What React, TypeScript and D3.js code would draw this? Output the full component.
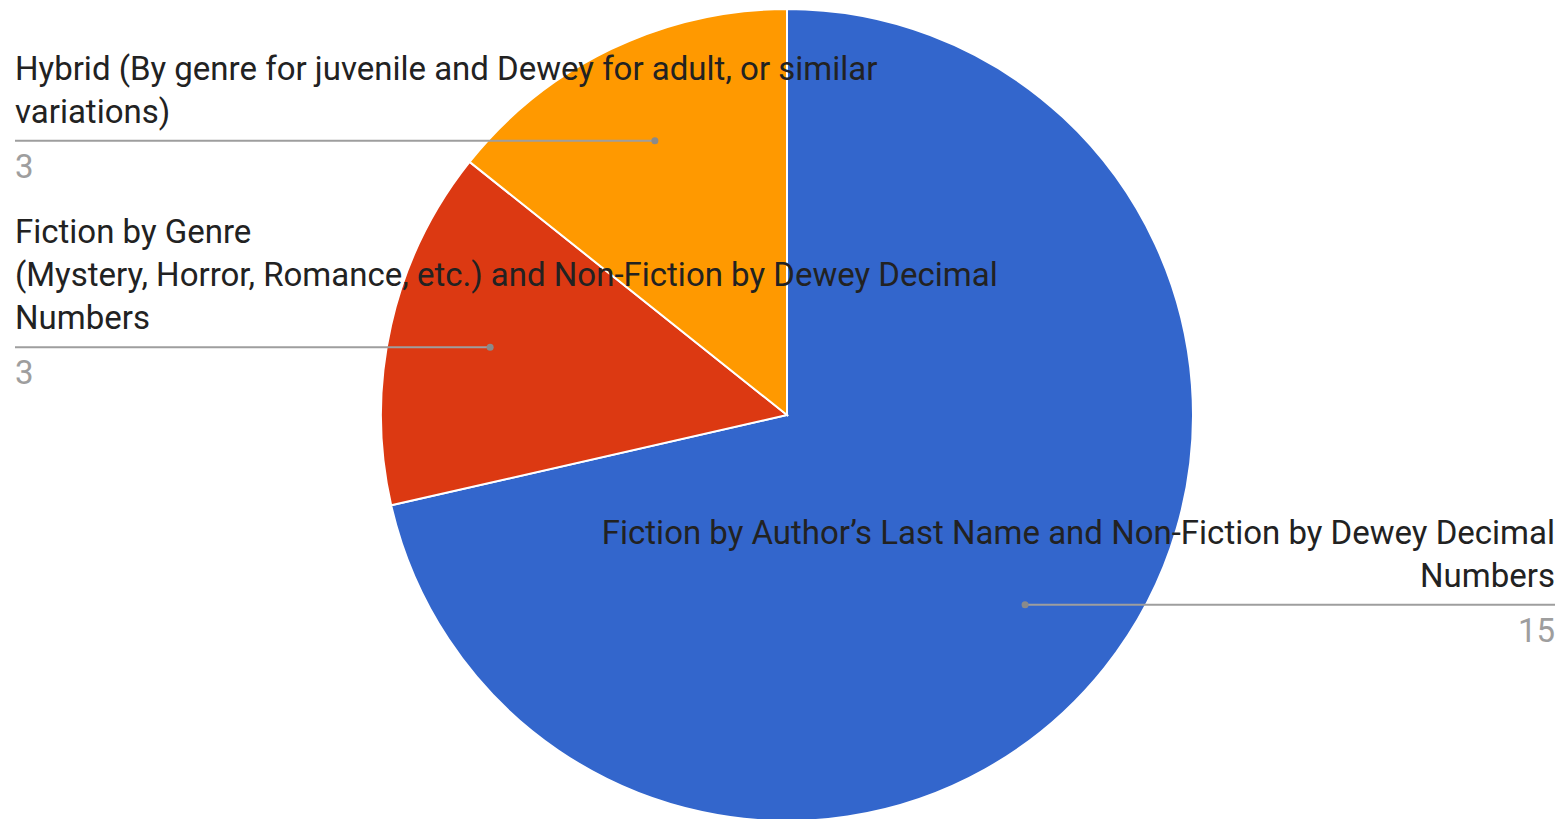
import React from "react";
import * as d3 from "d3";

const categories = [
  "Fiction by Author’s Last Name and Non-Fiction by Dewey Decimal Numbers",
  "Fiction by Genre (Mystery, Horror, Romance, etc.) and Non-Fiction by Dewey Decimal Numbers",
  "Hybrid (By genre for juvenile and Dewey for adult, or similar variations)",
];
const labelLines = [
  ["Fiction by Author’s Last Name and Non-Fiction by Dewey Decimal", "Numbers"],
  ["Fiction by Genre", "(Mystery, Horror, Romance, etc.) and Non-Fiction by Dewey Decimal", "Numbers"],
  ["Hybrid (By genre for juvenile and Dewey for adult, or similar", "variations)"],
];
const values = [15, 3, 3];
const colors = ["#3366cc", "#dc3912", "#ff9900"];

const W = 1568;
const H = 819;
const cx = 787;
const cy = 415;
const R = 406;
const FONT = "Roboto, 'Noto Sans', Arial, sans-serif";
const FS = 33;
const LINE_H = 43;

export default function App() {
  const pie = d3
    .pie<number>()
    .sort(null)
    .value((d) => d)
    .startAngle(0)
    .endAngle(2 * Math.PI);
  const arcs = pie(values);
  const arc = d3.arc<d3.PieArcDatum<number>>().innerRadius(0).outerRadius(R);
  const labelArc = d3
    .arc<d3.PieArcDatum<number>>()
    .innerRadius(R * 0.75)
    .outerRadius(R * 0.75);

  return (
    <div style={{ position: "absolute", left: 0, top: 0, width: W, height: H, background: "#fff", overflow: "hidden" }}>
      <svg width={W} height={H} style={{ display: "block" }}>
        <g transform={`translate(${cx},${cy})`}>
          {arcs.map((a, i) => (
            <path key={i} d={arc(a) || ""} fill={colors[i]} stroke="#fff" strokeWidth={2} />
          ))}
        </g>
        {arcs.map((a, i) => {
          const [px, py] = labelArc.centroid(a);
          const dx = cx + px;
          const dy = cy + py;
          const mid = (a.startAngle + a.endAngle) / 2;
          const right = mid < Math.PI;
          const textX = right ? 1555 : 15;
          const anchor = right ? "end" : "start";
          const lines = labelLines[i];
          const lastBase = dy - 18;
          return (
            <g key={categories[i]}>
              <line x1={textX} x2={dx} y1={dy} y2={dy} stroke="#9e9e9e" strokeWidth={2} />
              <circle cx={dx} cy={dy} r={3.5} fill="#8a8a8a" />
              {lines.map((ln, j) => (
                <text
                  key={j}
                  x={textX}
                  y={lastBase - (lines.length - 1 - j) * LINE_H}
                  textAnchor={anchor}
                  fontFamily={FONT}
                  fontSize={FS}
                  fill="#222222"
                >
                  {ln}
                </text>
              ))}
              <text
                x={textX}
                y={dy + 37}
                textAnchor={anchor}
                fontFamily={FONT}
                fontSize={FS}
                fill="#9e9e9e"
              >
                {values[i]}
              </text>
            </g>
          );
        })}
      </svg>
    </div>
  );
}
